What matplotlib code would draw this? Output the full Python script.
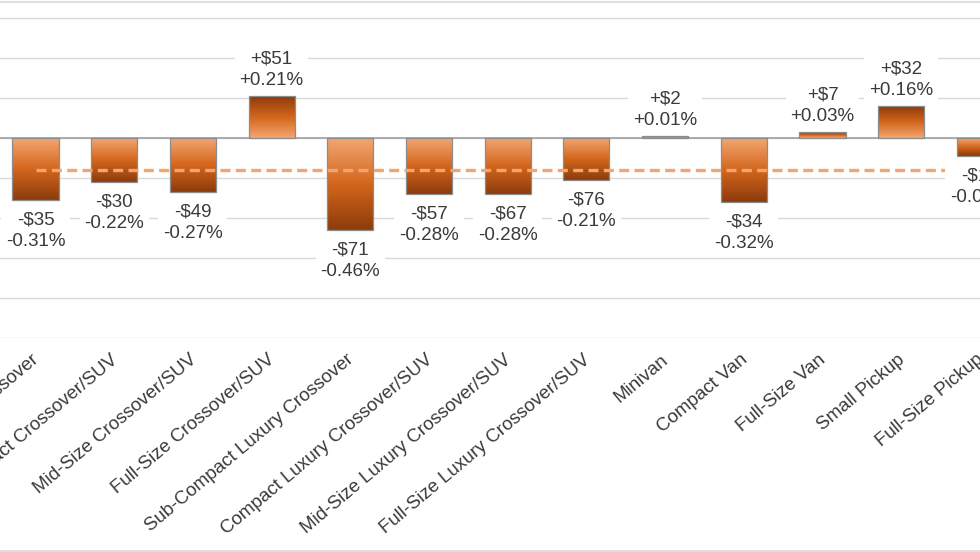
import numpy as np
import matplotlib
matplotlib.use("Agg")
import matplotlib.pyplot as plt
from matplotlib.colors import LinearSegmentedColormap
from matplotlib.lines import Line2D
from matplotlib.transforms import ScaledTranslation

categories = ["Sub-Compact Crossover", "Compact Crossover/SUV", "Mid-Size Crossover/SUV",
              "Full-Size Crossover/SUV", "Sub-Compact Luxury Crossover",
              "Compact Luxury Crossover/SUV", "Mid-Size Luxury Crossover/SUV",
              "Full-Size Luxury Crossover/SUV", "Minivan", "Compact Van", "Full-Size Van",
              "Small Pickup", "Full-Size Pickup"]
pct_change = [-0.31, -0.22, -0.27, 0.21, -0.46, -0.28, -0.28, -0.21, 0.01, -0.32, 0.03, 0.16, -0.09]
dollar_change = [-35, -30, -49, 51, -71, -57, -67, -76, 2, -34, 7, 32, -19]
average_pct = -0.16

plt.rcParams['font.family'] = ['Liberation Sans', 'DejaVu Sans']
TXT = '#3A3A3A'

fig = plt.figure(figsize=(9.8, 5.52), dpi=100)
W, H = 980.0, 552.0
n = len(categories)
spacing = 78.7
c0 = 35.5
left_px = c0 - spacing / 2
width_px = spacing * n
ymax, ymin = 0.8, -1.0
zero_px = 138.0
scale = 200.0
top_px = zero_px - ymax * scale
bot_px = zero_px - ymin * scale
ax = fig.add_axes([left_px / W, (H - bot_px) / H, width_px / W, (bot_px - top_px) / H])

ax.set_xlim(-0.5, n - 0.5)
ax.set_ylim(ymin, ymax)
ax.set_yticks(np.arange(-1.0, 0.81, 0.2))
ax.yaxis.grid(True, color='#D9D9D9', linewidth=1.0, zorder=0)
ax.set_axisbelow(True)
for s in ax.spines.values():
    s.set_visible(False)
ax.tick_params(axis='y', left=False, labelleft=False)
ax.tick_params(axis='x', length=0, pad=9.5)
ax.axhline(0, color='#A6A6A6', linewidth=1.3, zorder=1.5)

x = np.arange(n)
bars = ax.bar(x, pct_change, width=0.585, facecolor='none', edgecolor='#8C8C8C',
              linewidth=0.9, zorder=3)
cmap = LinearSegmentedColormap.from_list('g', ['#F3A672', '#D3661C', '#8C3B0C'])
grad = np.linspace(0, 1, 256).reshape(-1, 1)
for b in bars:
    x0, y0 = b.get_xy()
    w, h = b.get_width(), b.get_height()
    im = ax.imshow(grad, cmap=cmap, origin='lower', aspect='auto',
                   extent=(x0, x0 + w, y0, y0 + h), zorder=2.5, interpolation='bilinear')
    im.set_clip_path(b)

ax.plot([x[0], x[-1]], [average_pct, average_pct], color='#F4A46C', linewidth=2.4,
        linestyle=(0, (3.0, 1.6)), zorder=4, dash_capstyle='butt')

FS = 13.5
for i, (p, d) in enumerate(zip(pct_change, dollar_change)):
    sign = '+' if d > 0 else '-'
    lab = f"{sign}${abs(d)}\n{'+' if p > 0 else '-'}{abs(p):.2f}%"
    if p > 0:
        ax.annotate(lab, xy=(i, p), xytext=(0, 5), textcoords='offset points',
                    ha='center', va='bottom', fontsize=FS, color=TXT, linespacing=1.35,
                    bbox=dict(boxstyle='square,pad=0.25', fc='white', ec='none'), zorder=5)
    else:
        ax.annotate(lab, xy=(i, p), xytext=(0, -8), textcoords='offset points',
                    ha='center', va='top', fontsize=FS, color=TXT, linespacing=1.35,
                    bbox=dict(boxstyle='square,pad=0.25', fc='white', ec='none'), zorder=5)

ax.set_xticks(x)
ax.set_xticklabels(categories, rotation=40, ha='right', va='top',
                   rotation_mode='anchor', fontsize=FS, color=TXT)
shift = ScaledTranslation(-4 / 100, 0, fig.dpi_scale_trans)
for lbl in ax.get_xticklabels():
    lbl.set_transform(lbl.get_transform() + shift)

ax.set_xlim(-0.5, n - 0.5)
ax.set_ylim(ymin, ymax)

fig.add_artist(Line2D([0, 1], [1 - 1.5 / H, 1 - 1.5 / H], color='#D9D9D9', linewidth=1.2))
fig.add_artist(Line2D([0, 1], [1.5 / H, 1.5 / H], color='#D9D9D9', linewidth=1.2))

fig.savefig('out.png', dpi=100)
